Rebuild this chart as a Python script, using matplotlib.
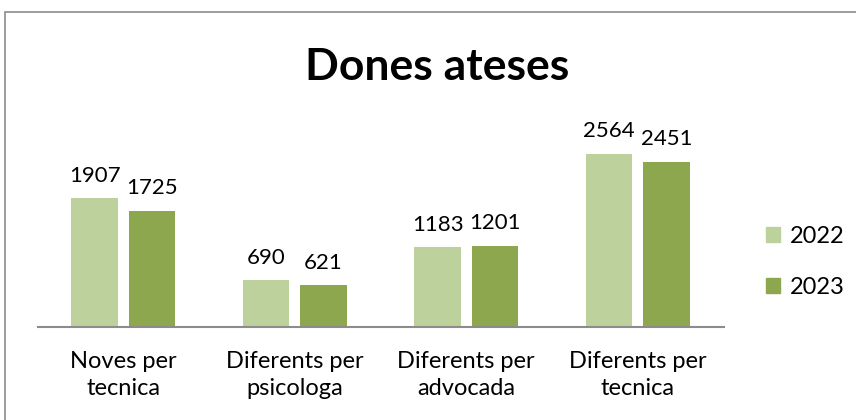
import matplotlib.pyplot as plt
import numpy as np
from matplotlib.patches import Rectangle, Patch

categories = ['Noves per\ntecnica', 'Diferents per\npsicologa', 'Diferents per\nadvocada', 'Diferents per\ntecnica']
values_2022 = [1907, 690, 1183, 2564]
values_2023 = [1725, 621, 1201, 2451]
series_names = ['2022', '2023']
colors = ['#BCD19B', '#8DA74F']

plt.rcParams['font.family'] = ['Lato', 'DejaVu Sans']

fig = plt.figure(figsize=(8.56, 4.2), dpi=100)

# outer chart border (cropped at right and bottom)
fig.patches.append(Rectangle((5 / 856, -0.1), 1.2, (420 - 12) / 420 + 0.1,
                             transform=fig.transFigure, fill=False,
                             edgecolor='#8c8c8c', linewidth=1.2))

ax = fig.add_axes([37.5 / 856, 93 / 420, 686 / 856, 217 / 420])
x = np.arange(len(categories))
w = 0.27
gap = 0.064
b1 = ax.bar(x - (w + gap) / 2, values_2022, w, color=colors[0])
b2 = ax.bar(x + (w + gap) / 2, values_2023, w, color=colors[1])

for bars in (b1, b2):
    for bar in bars:
        ax.annotate(str(int(bar.get_height())),
                    (bar.get_x() + bar.get_width() / 2, bar.get_height()),
                    xytext=(0, 9), textcoords='offset points',
                    ha='center', va='bottom', fontsize=16)

ax.set_xlim(-0.5, len(categories) - 0.5)
ax.set_ylim(0, 3215)
ax.set_yticks([])
ax.set_xticks(x)
ax.set_xticklabels(categories, fontsize=17, linespacing=1.4)
ax.tick_params(axis='x', length=0, pad=17)
for s in ['top', 'right', 'left']:
    ax.spines[s].set_visible(False)
ax.spines['bottom'].set_color('#8c8c8c')
ax.spines['bottom'].set_linewidth(1.5)

fig.text(437 / 856, 1 - 67 / 420, 'Dones ateses', ha='center', va='center',
         fontsize=32, fontweight='bold')

handles = [Patch(color=c) for c in colors]
fig.legend(handles, series_names, loc='center left',
           bbox_to_anchor=(766 / 856, 1 - 262 / 420), frameon=False,
           fontsize=17, handlelength=0.6, handleheight=0.6,
           labelspacing=1.25, handletextpad=0.4, borderpad=0, borderaxespad=0)

fig.savefig('out.png', dpi=100)
